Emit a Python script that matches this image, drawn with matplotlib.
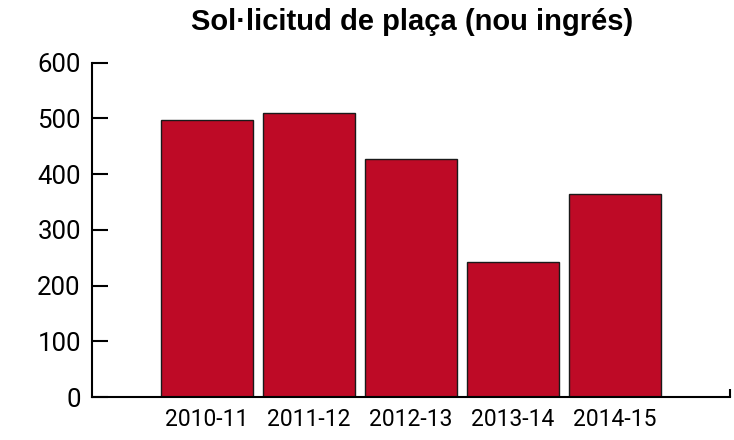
import matplotlib.pyplot as plt

# data
courses = ['2010-11', '2011-12', '2012-13', '2013-14', '2014-15']
requests = [498, 510, 427, 243, 365]
y_ticks = [0, 100, 200, 300, 400, 500, 600]

plt.rcParams['font.family'] = ['Roboto', 'DejaVu Sans']

fig = plt.figure(figsize=(7.34, 4.40), dpi=100)
ax = fig.add_axes([0.1253, 0.0977, 0.8693, 0.7598])

x = range(len(courses))
ax.bar(x, requests, width=0.9, color='#BE0A26', edgecolor='#1a1a1a', linewidth=1.0)

ax.set_xlim(-1.127, 5.13)
ax.set_ylim(0, 600)
ax.set_yticks(y_ticks)
ax.set_xticks(list(x))
ax.set_xticklabels(courses, fontsize=16.5)
ax.tick_params(axis='x', length=0, pad=8)
ax.tick_params(axis='y', direction='in', length=11.5, width=1.5, labelsize=18.5, pad=8)

# small end tick at the right end of the x axis
ax.set_xticks([5.13], minor=True)
ax.tick_params(axis='x', which='minor', direction='in', length=5.5, width=1.5)

for side in ['top', 'right']:
    ax.spines[side].set_visible(False)
for side in ['left', 'bottom']:
    ax.spines[side].set_linewidth(1.5)

fig.text(0.561, 0.95, 'Sol·licitud de plaça (nou ingrés)', ha='center', va='center',
         fontsize=21, fontweight='bold', family=['Liberation Sans', 'DejaVu Sans'])

fig.savefig('out.png', dpi=100)
